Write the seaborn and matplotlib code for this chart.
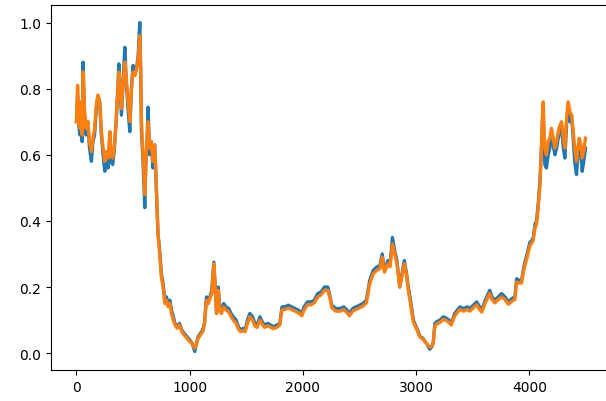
import matplotlib
matplotlib.use("Agg")
import matplotlib.pyplot as plt
import seaborn as sns
import pandas as pd

# sample positions (index along the series)
idx = [0, 10, 20, 30, 40, 50, 59, 70, 85, 100, 115, 132, 145, 160, 175, 190, 205, 220, 235, 250,
       265, 280, 295, 305, 320, 335, 350, 362, 374, 385, 397, 412, 427, 440, 455, 471, 485, 500, 515, 530,
       545, 559, 567, 574, 585, 595, 603, 613, 625, 633, 645, 660, 675, 690, 700, 710, 720, 735, 750, 765,
       780, 795, 810, 825, 840, 855, 870, 890, 910, 930, 950, 975, 1000, 1020, 1045, 1060, 1075, 1095, 1115, 1130,
       1148, 1165, 1178, 1195, 1213, 1225, 1237, 1252, 1265, 1280, 1300, 1320, 1345, 1365, 1385, 1410, 1430, 1450, 1470, 1490,
       1510, 1531, 1555, 1575, 1595, 1620, 1640, 1660, 1690, 1715, 1740, 1770, 1795, 1815, 1840, 1870, 1900, 1930, 1960, 1990,
       2010, 2040, 2070, 2100, 2130, 2160, 2190, 2220, 2240, 2255, 2290, 2330, 2360, 2390, 2410, 2440, 2470, 2500, 2530, 2560,
       2590, 2620, 2650, 2680, 2700, 2720, 2750, 2770, 2790, 2810, 2830, 2855, 2875, 2895, 2915, 2930, 2950, 2975, 3000, 3035,
       3060, 3090, 3120, 3140, 3150, 3165, 3180, 3210, 3240, 3268, 3290, 3310, 3340, 3386, 3420, 3450, 3475, 3505, 3534, 3560,
       3579, 3610, 3650, 3670, 3695, 3725, 3754, 3785, 3813, 3845, 3872, 3887, 3910, 3931, 3945, 3960, 3980, 4004, 4020, 4034,
       4050, 4063, 4080, 4093, 4107, 4114, 4122, 4130, 4137, 4150, 4166, 4180, 4195, 4210, 4225, 4240, 4260, 4284, 4300, 4313,
       4330, 4343, 4358, 4372, 4385, 4400, 4416, 4428, 4440, 4455, 4466, 4480, 4495]

actual = [0.70, 0.78, 0.69, 0.66, 0.75, 0.64, 0.88, 0.72, 0.66, 0.70, 0.62, 0.58, 0.64, 0.66, 0.74, 0.78, 0.76, 0.66, 0.60, 0.55,
          0.59, 0.56, 0.66, 0.58, 0.57, 0.62, 0.70, 0.78, 0.875, 0.80, 0.72, 0.82, 0.925, 0.82, 0.74, 0.67, 0.80, 0.87, 0.84, 0.86,
          0.90, 1.00, 0.85, 0.67, 0.60, 0.52, 0.44, 0.58, 0.66, 0.744, 0.60, 0.64, 0.56, 0.63, 0.55, 0.45, 0.36, 0.31, 0.24, 0.21,
          0.16, 0.17, 0.15, 0.16, 0.13, 0.11, 0.09, 0.08, 0.09, 0.07, 0.06, 0.05, 0.04, 0.03, 0.005, 0.03, 0.05, 0.06, 0.07, 0.09,
          0.17, 0.16, 0.17, 0.19, 0.275, 0.20, 0.12, 0.20, 0.14, 0.13, 0.15, 0.14, 0.135, 0.12, 0.11, 0.10, 0.08, 0.07, 0.075, 0.07,
          0.10, 0.12, 0.11, 0.09, 0.085, 0.11, 0.095, 0.085, 0.09, 0.085, 0.08, 0.085, 0.09, 0.14, 0.14, 0.145, 0.14, 0.135, 0.13, 0.12,
          0.14, 0.155, 0.155, 0.16, 0.18, 0.185, 0.20, 0.20, 0.17, 0.145, 0.135, 0.135, 0.14, 0.13, 0.12, 0.135, 0.14, 0.145, 0.15, 0.16,
          0.22, 0.25, 0.26, 0.265, 0.30, 0.25, 0.28, 0.27, 0.35, 0.31, 0.28, 0.20, 0.24, 0.28, 0.24, 0.20, 0.16, 0.10, 0.08, 0.05,
          0.045, 0.03, 0.012, 0.02, 0.03, 0.09, 0.095, 0.10, 0.11, 0.105, 0.10, 0.09, 0.12, 0.14, 0.135, 0.14, 0.135, 0.145, 0.155, 0.14,
          0.13, 0.16, 0.19, 0.17, 0.16, 0.17, 0.18, 0.17, 0.155, 0.165, 0.17, 0.225, 0.22, 0.22, 0.25, 0.275, 0.30, 0.335, 0.34, 0.35,
          0.39, 0.40, 0.46, 0.52, 0.63, 0.70, 0.74, 0.62, 0.57, 0.56, 0.60, 0.62, 0.66, 0.63, 0.60, 0.62, 0.66, 0.68, 0.62, 0.59,
          0.70, 0.75, 0.70, 0.72, 0.66, 0.58, 0.54, 0.60, 0.64, 0.60, 0.55, 0.58, 0.62]

predicted = [0.70, 0.81, 0.70, 0.68, 0.76, 0.66, 0.85, 0.74, 0.68, 0.70, 0.64, 0.61, 0.65, 0.68, 0.75, 0.78, 0.76, 0.67, 0.62, 0.58,
             0.61, 0.59, 0.67, 0.60, 0.59, 0.63, 0.70, 0.78, 0.85, 0.80, 0.74, 0.82, 0.88, 0.83, 0.76, 0.70, 0.80, 0.85, 0.84, 0.86,
             0.89, 0.96, 0.86, 0.70, 0.62, 0.55, 0.48, 0.58, 0.65, 0.70, 0.62, 0.64, 0.58, 0.63, 0.56, 0.46, 0.36, 0.30, 0.23, 0.20,
             0.15, 0.16, 0.14, 0.15, 0.12, 0.10, 0.085, 0.075, 0.085, 0.065, 0.055, 0.045, 0.035, 0.03, 0.015, 0.03, 0.045, 0.055, 0.065, 0.085,
             0.16, 0.15, 0.165, 0.18, 0.27, 0.20, 0.12, 0.19, 0.13, 0.12, 0.14, 0.13, 0.125, 0.11, 0.10, 0.09, 0.072, 0.065, 0.068, 0.065,
             0.09, 0.11, 0.10, 0.082, 0.078, 0.10, 0.088, 0.078, 0.082, 0.078, 0.074, 0.078, 0.085, 0.13, 0.132, 0.136, 0.132, 0.127, 0.122, 0.113,
             0.13, 0.146, 0.146, 0.152, 0.17, 0.176, 0.19, 0.19, 0.165, 0.137, 0.127, 0.127, 0.132, 0.122, 0.113, 0.127, 0.132, 0.137, 0.142, 0.152,
             0.21, 0.24, 0.25, 0.255, 0.29, 0.245, 0.27, 0.262, 0.33, 0.30, 0.27, 0.20, 0.235, 0.27, 0.235, 0.19, 0.15, 0.095, 0.075, 0.048,
             0.042, 0.03, 0.018, 0.022, 0.03, 0.082, 0.088, 0.093, 0.102, 0.098, 0.093, 0.085, 0.113, 0.132, 0.127, 0.132, 0.127, 0.137, 0.146, 0.132,
             0.124, 0.152, 0.18, 0.162, 0.152, 0.162, 0.17, 0.162, 0.148, 0.157, 0.162, 0.215, 0.212, 0.212, 0.242, 0.265, 0.29, 0.325, 0.332, 0.342,
             0.38, 0.39, 0.45, 0.51, 0.62, 0.70, 0.76, 0.66, 0.62, 0.60, 0.64, 0.65, 0.68, 0.65, 0.62, 0.64, 0.68, 0.70, 0.65, 0.62,
             0.72, 0.76, 0.73, 0.72, 0.68, 0.62, 0.58, 0.62, 0.65, 0.63, 0.59, 0.61, 0.65]

df = pd.DataFrame({"idx": idx, "actual": actual, "predicted": predicted})

fig = plt.figure(figsize=(6.06, 4.02), dpi=100)
ax = fig.add_axes([51 / 606, 31 / 402, (611.5 - 51) / 606, 365 / 402])

sns.lineplot(data=df, x="idx", y="actual", ax=ax, color="#1f77b4", linewidth=2.4, estimator=None)
sns.lineplot(data=df, x="idx", y="predicted", ax=ax, color="#ff7f0e", linewidth=2.4, estimator=None)

ax.set_xlim(-225, 4725)
ax.set_ylim(-0.051, 1.053)
ax.set_xticks([0, 1000, 2000, 3000, 4000])
ax.set_yticks([0.0, 0.2, 0.4, 0.6, 0.8, 1.0])
ax.set_xlabel("")
ax.set_ylabel("")
ax.tick_params(labelsize=10)

fig.savefig("out.png", dpi=100)
